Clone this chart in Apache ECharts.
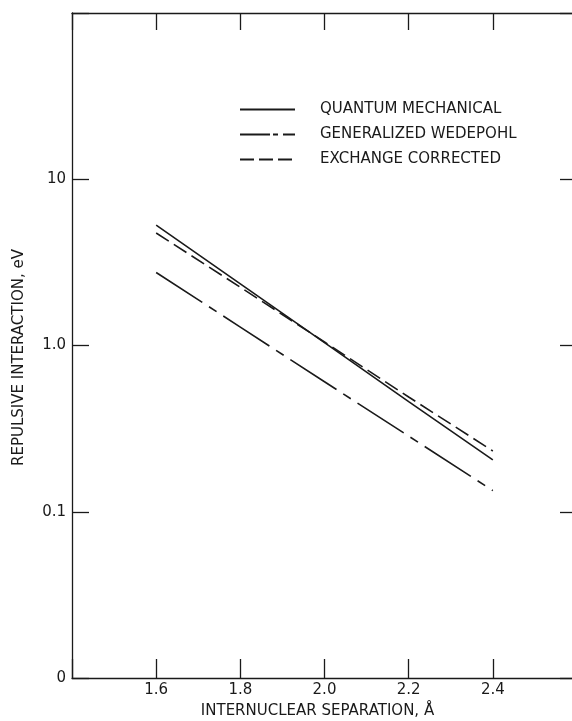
<!DOCTYPE html>
<html>
<head>
<meta charset="utf-8">
<script src="https://cdn.jsdelivr.net/npm/echarts@6/dist/echarts.min.js"></script>
<style>
  html, body { margin: 0; padding: 0; background: #fff; }
</style>
</head>
<body>
<div id="chart01" style="width: 572px; height: 721px"></div>
<script>
// data
const separation = [1.6, 1.8, 2.0, 2.2, 2.4];
const quantumMechanical = [5.3, 2.35, 1.04, 0.46, 0.205];
const generalizedWedepohl = [2.75, 1.29, 0.605, 0.285, 0.134];
const exchangeCorrected = [4.75, 2.24, 1.05, 0.49, 0.232];
const seriesNames = ["QUANTUM MECHANICAL", "GENERALIZED WEDEPOHL", "EXCHANGE CORRECTED"];
const xTickLabels = ["1.6", "1.8", "2.0", "2.2", "2.4"];
const yTickLabels = { "10": "10", "1": "1.0", "0.1": "0.1", "0.01": "0" };

const ink = "#1a1a1a";
const font = "DejaVu Sans";

function pairs(ys) {
  return separation.map((x, i) => [x, ys[i]]);
}

const option = {
  backgroundColor: "#fff",
  animation: false,
  grid: {
    left: 72,
    top: 13,
    width: 505,
    height: 665,
    outerBoundsMode: "none",
  },
  legend: {
    orient: "vertical",
    left: 234,
    top: 97,
    itemWidth: 55,
    itemHeight: 14,
    itemGap: 10,
    itemStyle: { opacity: 0, color: "transparent", borderColor: "transparent" },
    textStyle: {
      color: ink,
      fontFamily: font,
      fontSize: 15,
      padding: [0, 0, 0, 20],
    },
    data: [
      { name: seriesNames[0], lineStyle: { type: "solid" } },
      { name: seriesNames[1], lineStyle: { type: [30, 3, 5, 5] } },
      { name: seriesNames[2], lineStyle: { type: [14, 5] } },
    ],
  },
  xAxis: [
    {
      type: "value",
      min: 1.4,
      max: 2.6,
      interval: 0.2,
      name: "INTERNUCLEAR SEPARATION, Å",
      nameLocation: "middle",
      nameGap: 26,
      nameTextStyle: { color: ink, fontFamily: font, fontSize: 15, padding: [0, 14, 0, 0] },
      axisLine: { lineStyle: { color: ink, width: 1.3 } },
      axisTick: { inside: true, length: 19, lineStyle: { color: ink, width: 1.3 } },
      axisLabel: {
        color: ink,
        fontFamily: font,
        fontSize: 15,
        margin: 5,
        formatter: (v) => {
          const s = v.toFixed(1);
          return xTickLabels.indexOf(s) >= 0 ? s : "";
        },
      },
      splitLine: { show: false },
    },
    {
      type: "value",
      position: "top",
      min: 1.4,
      max: 2.6,
      interval: 0.2,
      axisLine: { lineStyle: { color: ink, width: 1.3 } },
      axisTick: { inside: true, length: 17, lineStyle: { color: ink, width: 1.3 } },
      axisLabel: { show: false },
      splitLine: { show: false },
    },
  ],
  yAxis: [
    {
      type: "log",
      logBase: 10,
      min: 0.01,
      max: 100,
      interval: 1,
      name: "REPULSIVE INTERACTION, eV",
      nameLocation: "middle",
      nameGap: 45,
      nameTextStyle: { color: ink, fontFamily: font, fontSize: 15, padding: [0, 24, 0, 0] },
      axisLine: { lineStyle: { color: ink, width: 1.3 } },
      axisTick: { inside: true, length: 17, lineStyle: { color: ink, width: 1.3 } },
      axisLabel: {
        color: ink,
        fontFamily: font,
        fontSize: 15,
        margin: 6,
        formatter: (v) => {
          const k = String(Number(v.toPrecision(3)));
          return yTickLabels[k] !== undefined ? yTickLabels[k] : "";
        },
      },
      splitLine: { show: false },
    },
    {
      type: "log",
      logBase: 10,
      position: "right",
      min: 0.01,
      max: 100,
      interval: 1,
      axisLine: { show: false },
      axisTick: { inside: true, length: 17, lineStyle: { color: ink, width: 1.3 } },
      axisLabel: { show: false },
      splitLine: { show: false },
    },
  ],
  series: [
    {
      name: seriesNames[0],
      type: "line",
      symbol: "none",
      color: ink,
      lineStyle: { color: ink, width: 1.6, type: "solid" },
      data: pairs(quantumMechanical),
    },
    {
      name: seriesNames[1],
      type: "line",
      symbol: "none",
      color: ink,
      lineStyle: { color: ink, width: 1.6, type: [55, 8, 9, 8] },
      data: pairs(generalizedWedepohl),
    },
    {
      name: seriesNames[2],
      type: "line",
      symbol: "none",
      color: ink,
      lineStyle: { color: ink, width: 1.6, type: [15, 6] },
      data: pairs(exchangeCorrected),
    },
  ],
};

const chart01 = echarts.init(document.getElementById("chart01"));
chart01.setOption(option);
</script>
</body>
</html>
